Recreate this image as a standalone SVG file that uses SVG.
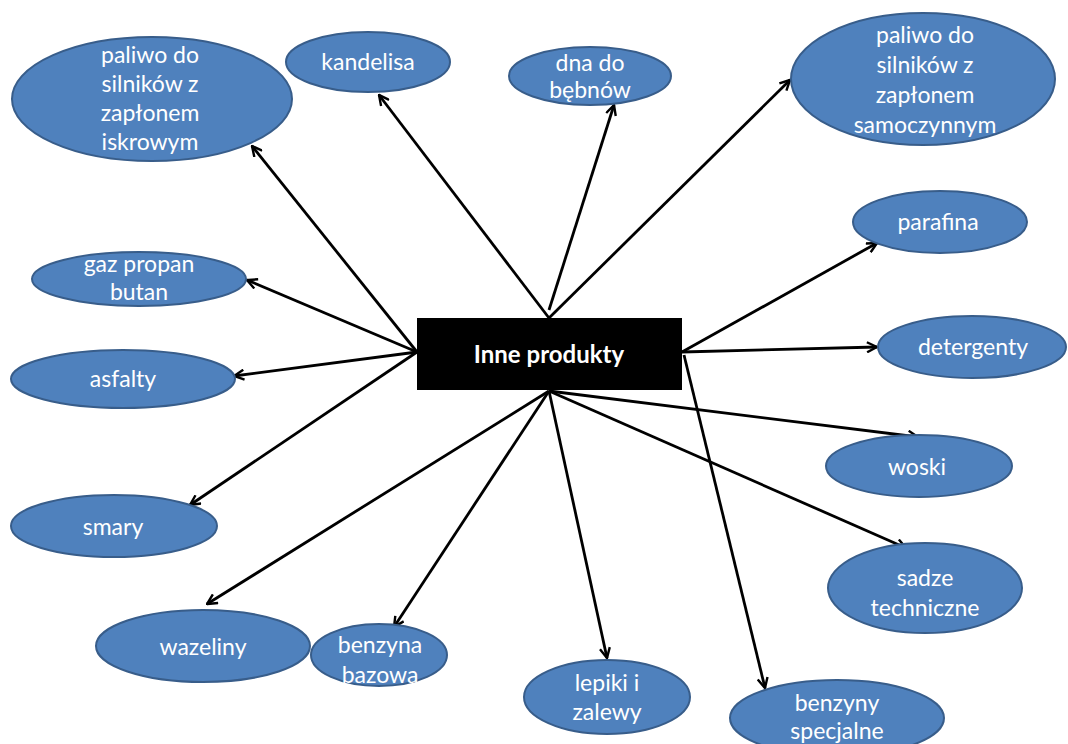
<svg xmlns="http://www.w3.org/2000/svg" width="1068" height="744" viewBox="0 0 1068 744">
  <defs>
    <marker id="arrow" viewBox="0 0 12 12" refX="11" refY="6" markerWidth="12" markerHeight="12" markerUnits="userSpaceOnUse" orient="auto">
      <path d="M1,1 L11,6 L1,11" fill="none" stroke="#000" stroke-width="2.4"/>
    </marker>
  </defs>
  <style>
    .node ellipse { fill: #4f81bd; stroke: #385d8a; stroke-width: 2; }
    .node text { fill: #fff; font-family: Lato, "Open Sans", "Liberation Sans", sans-serif; font-size: 23px; text-anchor: middle; }
    .hub rect { fill: #000; }
    .hub text { fill: #fff; font-family: Lato, "Open Sans", "Liberation Sans", sans-serif; font-size: 24px; font-weight: bold; text-anchor: middle; }
    .links line { stroke: #000; stroke-width: 2.8; marker-end: url(#arrow); }
  </style>
  <rect width="1068" height="744" fill="#fff"/>

  <g class="links">
    <line x1="417" y1="352" x2="252" y2="146"/>
    <line x1="549" y1="318" x2="379" y2="95"/>
    <line x1="549" y1="310" x2="614" y2="105"/>
    <line x1="549" y1="318" x2="790" y2="80"/>
    <line x1="682" y1="352" x2="877" y2="243"/>
    <line x1="417" y1="352" x2="247" y2="280"/>
    <line x1="682" y1="352" x2="877" y2="347"/>
    <line x1="417" y1="352" x2="234" y2="376"/>
    <line x1="417" y1="352" x2="190" y2="505"/>
    <line x1="549" y1="391" x2="918" y2="437"/>
    <line x1="549" y1="391" x2="906" y2="548"/>
    <line x1="549" y1="391" x2="207" y2="604"/>
    <line x1="549" y1="391" x2="394" y2="627"/>
    <line x1="549" y1="391" x2="607" y2="658"/>
    <line x1="684" y1="355" x2="765" y2="688"/>
  </g>

  <g id="hub" class="hub">
    <rect x="417" y="318" width="265" height="72"/>
    <text x="549" y="363">Inne produkty</text>
  </g>

  <g id="n-iskrowym" class="node">
    <ellipse cx="152" cy="99" rx="140" ry="62"/>
    <text x="150" y="63">paliwo do</text>
    <text x="150" y="92">silników z</text>
    <text x="150" y="121">zapłonem</text>
    <text x="150" y="150">iskrowym</text>
  </g>
  <g id="n-kandelisa" class="node">
    <ellipse cx="368" cy="62" rx="82" ry="30"/>
    <text x="368" y="70">kandelisa</text>
  </g>
  <g id="n-dna" class="node">
    <ellipse cx="590" cy="76" rx="81" ry="29"/>
    <text x="590" y="71">dna do</text>
    <text x="590" y="98">bębnów</text>
  </g>
  <g id="n-samoczynnym" class="node">
    <ellipse cx="923" cy="79" rx="132" ry="66"/>
    <text x="925" y="43">paliwo do</text>
    <text x="925" y="73">silników z</text>
    <text x="925" y="103">zapłonem</text>
    <text x="925" y="133">samoczynnym</text>
  </g>
  <g id="n-parafina" class="node">
    <ellipse cx="940" cy="222" rx="87" ry="31"/>
    <text x="938" y="230">parafina</text>
  </g>
  <g id="n-gaz" class="node">
    <ellipse cx="139" cy="279" rx="107" ry="27"/>
    <text x="139" y="272">gaz propan</text>
    <text x="139" y="300">butan</text>
  </g>
  <g id="n-asfalty" class="node">
    <ellipse cx="123" cy="379" rx="112" ry="29"/>
    <text x="123" y="387">asfalty</text>
  </g>
  <g id="n-detergenty" class="node">
    <ellipse cx="972" cy="347" rx="94" ry="31"/>
    <text x="973" y="355">detergenty</text>
  </g>
  <g id="n-woski" class="node">
    <ellipse cx="919" cy="466" rx="93" ry="31"/>
    <text x="917" y="475">woski</text>
  </g>
  <g id="n-smary" class="node">
    <ellipse cx="114" cy="526" rx="103" ry="31"/>
    <text x="113" y="535">smary</text>
  </g>
  <g id="n-sadze" class="node">
    <ellipse cx="925" cy="588" rx="97" ry="45"/>
    <text x="925" y="586">sadze</text>
    <text x="925" y="616">techniczne</text>
  </g>
  <g id="n-wazeliny" class="node">
    <ellipse cx="203" cy="646" rx="107" ry="36"/>
    <text x="203" y="655">wazeliny</text>
  </g>
  <g id="n-benzyna" class="node">
    <ellipse cx="379" cy="655" rx="68" ry="31"/>
    <text x="380" y="653">benzyna</text>
    <text x="380" y="683">bazowa</text>
  </g>
  <g id="n-lepiki" class="node">
    <ellipse cx="607" cy="697" rx="83" ry="37"/>
    <text x="607" y="691">lepiki i</text>
    <text x="607" y="720">zalewy</text>
  </g>
  <g id="n-benzyny" class="node">
    <ellipse cx="837" cy="718" rx="107" ry="38"/>
    <text x="837" y="711">benzyny</text>
    <text x="837" y="739">specjalne</text>
  </g>
</svg>
